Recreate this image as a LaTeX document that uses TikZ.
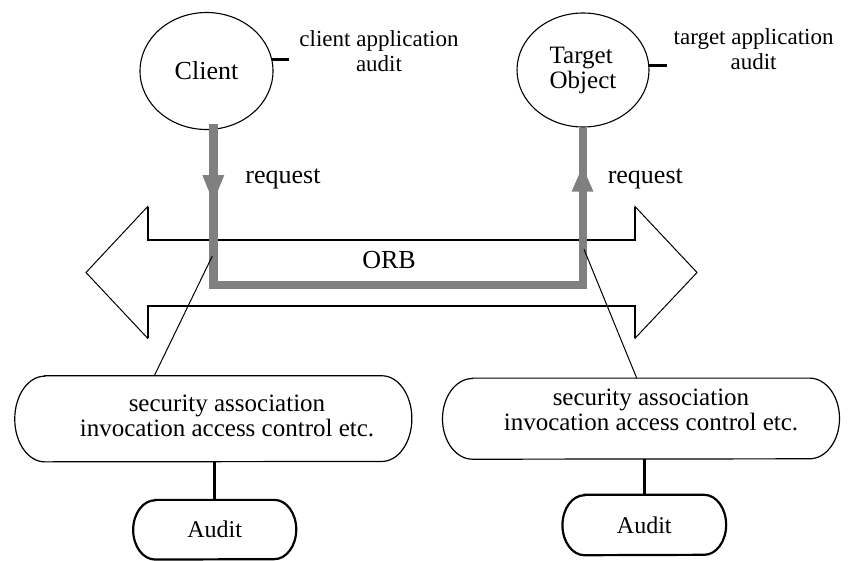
\documentclass[tikz,border=0pt]{standalone}
\usepackage{fontspec}
\setmainfont{Liberation Serif}
\usetikzlibrary{shapes.geometric}
\definecolor{pathgray}{RGB}{128,128,128}
\newcommand\mypill[4]{%
  \draw[#4] ([xshift=#2]#1.north west) -- ([xshift=-#2]#1.north east)
    arc[start angle=90,end angle=-90,x radius=#2,y radius=#3]
    -- ([xshift=#2]#1.south west)
    arc[start angle=270,end angle=90,x radius=#2,y radius=#3] -- cycle;}
\tikzset{
  txt/.style={inner sep=0pt},
  big/.style={font=\fontsize{26}{26}\selectfont},
  mid/.style={font=\fontsize{25}{25}\selectfont},
  small/.style={font=\fontsize{23}{25}\selectfont},
  circ/.style={ellipse, draw, line width=1.1pt, inner sep=0pt},
  box/.style={rectangle, draw=none, inner sep=0pt},
  tick/.style={line width=2.6pt},
  gp/.style={draw=pathgray, line width=8.7pt, line join=miter, line cap=butt},
  headfill/.style={fill=pathgray},
  thin/.style={line width=1pt},
  orbthick/.style={line width=2pt, line join=miter},
  auditline/.style={line width=2.7pt}
}
\begin{document}
\begin{tikzpicture}[x=1pt,y=-1pt,font=\fontsize{24}{25}\selectfont]
\useasboundingbox (0,0) rectangle (853,560);
% ORB double arrow
\draw[thin, fill=white] (86,272.5) -- (147.7,206.5) -- (147.7,240) -- (635,240) -- (635,206.5)
  -- (697,272.5) -- (635,338.3) -- (635,305.7) -- (147.7,305.7) -- (147.7,338.3) -- cycle;
\draw[orbthick] (147.7,206.5) -- (147.7,240) -- (635,240) -- (635,206.5);
\draw[orbthick] (147.7,338.3) -- (147.7,305.7) -- (635,305.7) -- (635,338.3);
\node[txt, big, anchor=base] (orb) at (389,268.3) {ORB};
% objects
\node[circ, big, minimum width=133pt, minimum height=117pt] (cl) at (206.5,71) {Client};
\node[circ, mid, minimum width=132pt, minimum height=114pt, align=left] (tg) at (583,70) {Target\\Object};
\draw[tick] (cl.10) -- ++(17,0);
\draw[tick] (tg.4) -- ++(18,0);
\node[txt, small, align=center] (cla) at (379,51.6) {client application\\audit};
\node[txt, small, align=center] (tga) at (753.6,49.6) {target application\\audit};
% request path
\coordinate (g1) at ([xshift=6.8pt,yshift=6pt]cl.south);
\draw[gp] (g1) -- (g1 |- 0,285) -- (tg.south |- 0,285) -- (tg.south);
\fill[headfill] (202.3,175) -- (224.3,175) -- (213.3,202) -- cycle;
\fill[headfill] (571.5,191.7) -- (593.5,191.7) -- (582.5,166.7) -- cycle;
\node[txt, big, anchor=base] (rq1) at (283,183.3) {request};
\node[txt, big, anchor=base] (rq2) at (645.3,183.3) {request};
% security association boxes
\node[box, minimum width=396.7pt, minimum height=85.7pt] (b1) at (213.3,418.8) {};
\mypill{b1}{30pt}{42.85pt}{line width=1.2pt}
\node[txt, mid, align=center] (s1) at (227,415.7) {security association\\invocation access control etc.};
\node[box, minimum width=396.6pt, minimum height=80.7pt] (b2) at (641,418.65) {};
\mypill{b2}{30pt}{40.35pt}{line width=1.2pt}
\node[txt, mid, align=center] (s2) at (651,409.8) {security association\\invocation access control etc.};
% diagonal connectors
\coordinate (d1) at (212.3,256);
\coordinate (d2) at (584,249.3);
\draw[thin] (d1) -- ([xshift=-59pt]b1.north);
\draw[thin] (d2) -- ([xshift=-4.3pt]b2.north);
% audit
\node[box, minimum width=162.7pt, minimum height=59.3pt] (a1) at (214.7,529.7) {Audit};
\mypill{a1}{22pt}{29.65pt}{line width=2.2pt}
\node[box, minimum width=163.3pt, minimum height=60pt] (a2) at (644.3,525) {Audit};
\mypill{a2}{22pt}{30pt}{line width=2.2pt}
\draw[auditline] (a1.north) -- (a1.north |- b1.south);
\draw[auditline] (a2.north) -- (a2.north |- b2.south);
\end{tikzpicture}
\end{document}
